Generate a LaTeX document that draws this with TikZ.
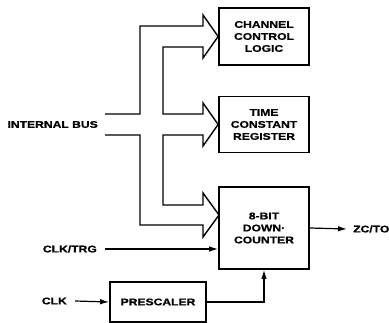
\documentclass[tikz,border=0pt]{standalone}
\usepackage{fontspec}
\setmainfont{Liberation Sans}[FakeStretch=1.25, BoldFeatures={FakeBold=0.8}]
\usetikzlibrary{arrows.meta, positioning}

\begin{document}
\begin{tikzpicture}[
    x=1pt, y=-1pt,
    font=\fontsize{9.7}{12}\selectfont\bfseries,
    block/.style={rectangle, draw=black, line width=1.7pt, minimum width=90pt, align=center, inner sep=0pt},
    label/.style={inner sep=0pt},
    bus/.style={line width=1.4pt, line join=miter},
    arrow/.style={->, >={Latex[length=9pt,width=5.5pt]}, line width=1.2pt}
]
\useasboundingbox (0,0) rectangle (389,323);

% --- Bloques ---
\node[block, minimum height=57pt] (ccl) at (264,36.5) {CHANNEL\\CONTROL\\LOGIC};
\node[block, minimum height=56pt] (tcr) at (264,124.5) {TIME\\CONSTANT\\REGISTER};
\node[block, minimum height=82pt] (counter) at (264,228) {8-BIT\\DOWN·\\COUNTER};
\node[block, minimum width=96pt, minimum height=40pt] (prescaler) at (158,302) {PRESCALER};

% --- Etiquetas ---
\node[label, anchor=east] (bus) at (98,124.5) {INTERNAL BUS};
\node[label, anchor=east] (clktrg) at (97,249) {CLK/TRG};
\node[label, anchor=east] (clk) at (67,301) {CLK};
\node[label, anchor=west] (zcto) at (353,229) {ZC/TO};

% --- Bus interno ---
\draw[bus] (105,114) -- (140,114) -- (140,26) -- (203,26) -- (203,15) -- (ccl.west)
    -- (203,58) -- (203,47) -- (163,47) -- (163,114) -- (203,114) -- (203,103)
    -- (tcr.west) -- (203,146) -- (203,135) -- (163,135) -- (163,205) -- (203,205)
    -- (203,193) -- (219,215) -- (203,237) -- (203,225) -- (140,225) -- (140,135)
    -- (105,135);

% --- Flechas ---
\draw[arrow] ([xshift=8pt]clktrg.east) -- (clktrg.east -| counter.west);
\draw[arrow] ([xshift=8pt]clk.east) -- (prescaler.west);
\draw[arrow] (prescaler.east) -| (counter.south);
\draw[arrow] (counter.east) -- ([xshift=-6pt]zcto.west);

\end{tikzpicture}
\end{document}
